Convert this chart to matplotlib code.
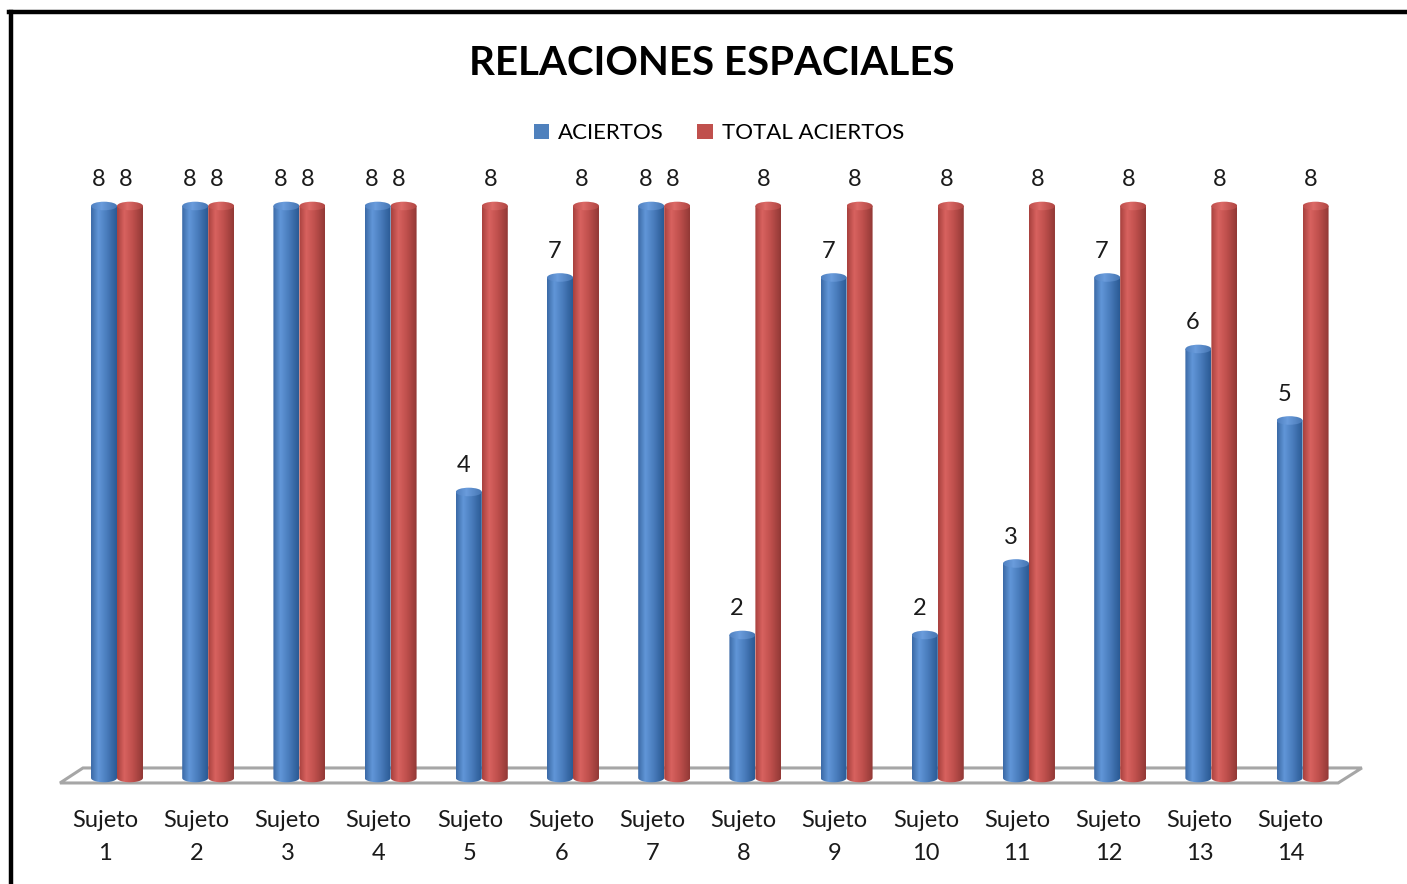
import numpy as np
import matplotlib
matplotlib.use("Agg")
import matplotlib.pyplot as plt
from matplotlib.patches import Ellipse, Polygon, Patch, PathPatch
from matplotlib.path import Path
from matplotlib.colors import LinearSegmentedColormap
from matplotlib.lines import Line2D

plt.rcParams['font.family'] = ['Lato', 'DejaVu Sans']

# datos
sujetos = ["Sujeto\n1", "Sujeto\n2", "Sujeto\n3", "Sujeto\n4", "Sujeto\n5", "Sujeto\n6", "Sujeto\n7",
           "Sujeto\n8", "Sujeto\n9", "Sujeto\n10", "Sujeto\n11", "Sujeto\n12", "Sujeto\n13", "Sujeto\n14"]
aciertos = [8, 8, 8, 8, 4, 7, 8, 2, 7, 2, 3, 7, 6, 5]
total_aciertos = [8, 8, 8, 8, 8, 8, 8, 8, 8, 8, 8, 8, 8, 8]
series = ["ACIERTOS", "TOTAL ACIERTOS"]

cmap_azul = LinearSegmentedColormap.from_list("azul", [(0, "#3b6aa6"), (0.28, "#6196d8"), (0.6, "#4a7dbd"), (1, "#2b5a94")])
cmap_rojo = LinearSegmentedColormap.from_list("rojo", [(0, "#a8413e"), (0.28, "#d8625f"), (0.6, "#c0504d"), (1, "#923936")])
cmap_azul_top = LinearSegmentedColormap.from_list("azult", [(0, "#4f80c0"), (0.4, "#6a9cdc"), (1, "#4676b3")])
cmap_rojo_top = LinearSegmentedColormap.from_list("rojot", [(0, "#bc4d4a"), (0.4, "#dc6a67"), (1, "#b04542")])

fig = plt.figure(figsize=(14.07, 8.84), dpi=100)
ax = fig.add_axes([0, 0, 1, 1])
ax.axis("off")

W = 0.285      # ancho de cilindro (unidades de categoria)
EH = 0.12      # alto de la elipse (unidades de valor)
grad = np.linspace(0, 1, 64).reshape(1, -1)


def cilindro(xl, v, cm, cm_top, z):
    xr = xl + W
    xc = xl + W / 2
    t = np.linspace(np.pi, 2 * np.pi, 40)
    arco = np.column_stack([xc + W / 2 * np.cos(t), EH / 2 * np.sin(t)])
    verts = np.vstack([[xl, v], [xl, 0], arco, [xr, 0], [xr, v], [xl, v]])
    body = PathPatch(Path(verts), facecolor="none", edgecolor="none", zorder=z)
    ax.add_patch(body)
    im = ax.imshow(grad, cmap=cm, extent=(xl, xr, -EH, v), aspect="auto", zorder=z)
    im.set_clip_path(body)
    top = Ellipse((xc, v), W, EH, facecolor="none", edgecolor="none", zorder=z + 0.5)
    ax.add_patch(top)
    im2 = ax.imshow(grad, cmap=cm_top, extent=(xl, xr, v - EH, v + EH), aspect="auto", zorder=z + 0.5)
    im2.set_clip_path(top)


# piso
piso = Polygon([[-0.625, -0.07], [-0.373, 0.14], [13.65, 0.14], [13.39, -0.07]], closed=True,
               facecolor="white", edgecolor="#a6a6a6", lw=2.2, zorder=1)
ax.add_patch(piso)

for i in range(len(sujetos)):
    cilindro(i - W, aciertos[i], cmap_azul, cmap_azul_top, 2 + i * 2)
    cilindro(i, total_aciertos[i], cmap_rojo, cmap_rojo_top, 3 + i * 2)
    ax.text(i - W / 2 - 0.06, aciertos[i] + 0.37, str(aciertos[i]), ha="center", va="center", fontsize=17, color="#1a1a1a")
    ax.text(i + W / 2 - 0.05, total_aciertos[i] + 0.37, str(total_aciertos[i]), ha="center", va="center", fontsize=17, color="#1a1a1a")
    ax.text(i - 0.13, -0.45, sujetos[i], ha="center", va="top", fontsize=17, linespacing=1.7, color="#1a1a1a")

ax.set_xlim(-1.283, 14.145)
ax.set_ylim(-1.483, 10.881)

fig.text(0.506, 0.928, "RELACIONES ESPACIALES", ha="center", va="center", fontsize=29, fontweight="bold")

handles = [Patch(facecolor="#4f81bd"), Patch(facecolor="#c0504d")]
fig.legend(handles, series, loc="center", bbox_to_anchor=(0.511, 0.849), ncol=2, frameon=False,
           fontsize=16, handlelength=0.7, handleheight=0.7, handletextpad=0.4, columnspacing=1.5)

# marco
fig.add_artist(Line2D([0.0064, 1.0], [0.9865, 0.9865], color="black", lw=3.2, transform=fig.transFigure))
fig.add_artist(Line2D([0.0075, 0.0075], [0.0, 0.9865], color="black", lw=3.2, transform=fig.transFigure))

fig.savefig("out.png", dpi=100, facecolor="white")
